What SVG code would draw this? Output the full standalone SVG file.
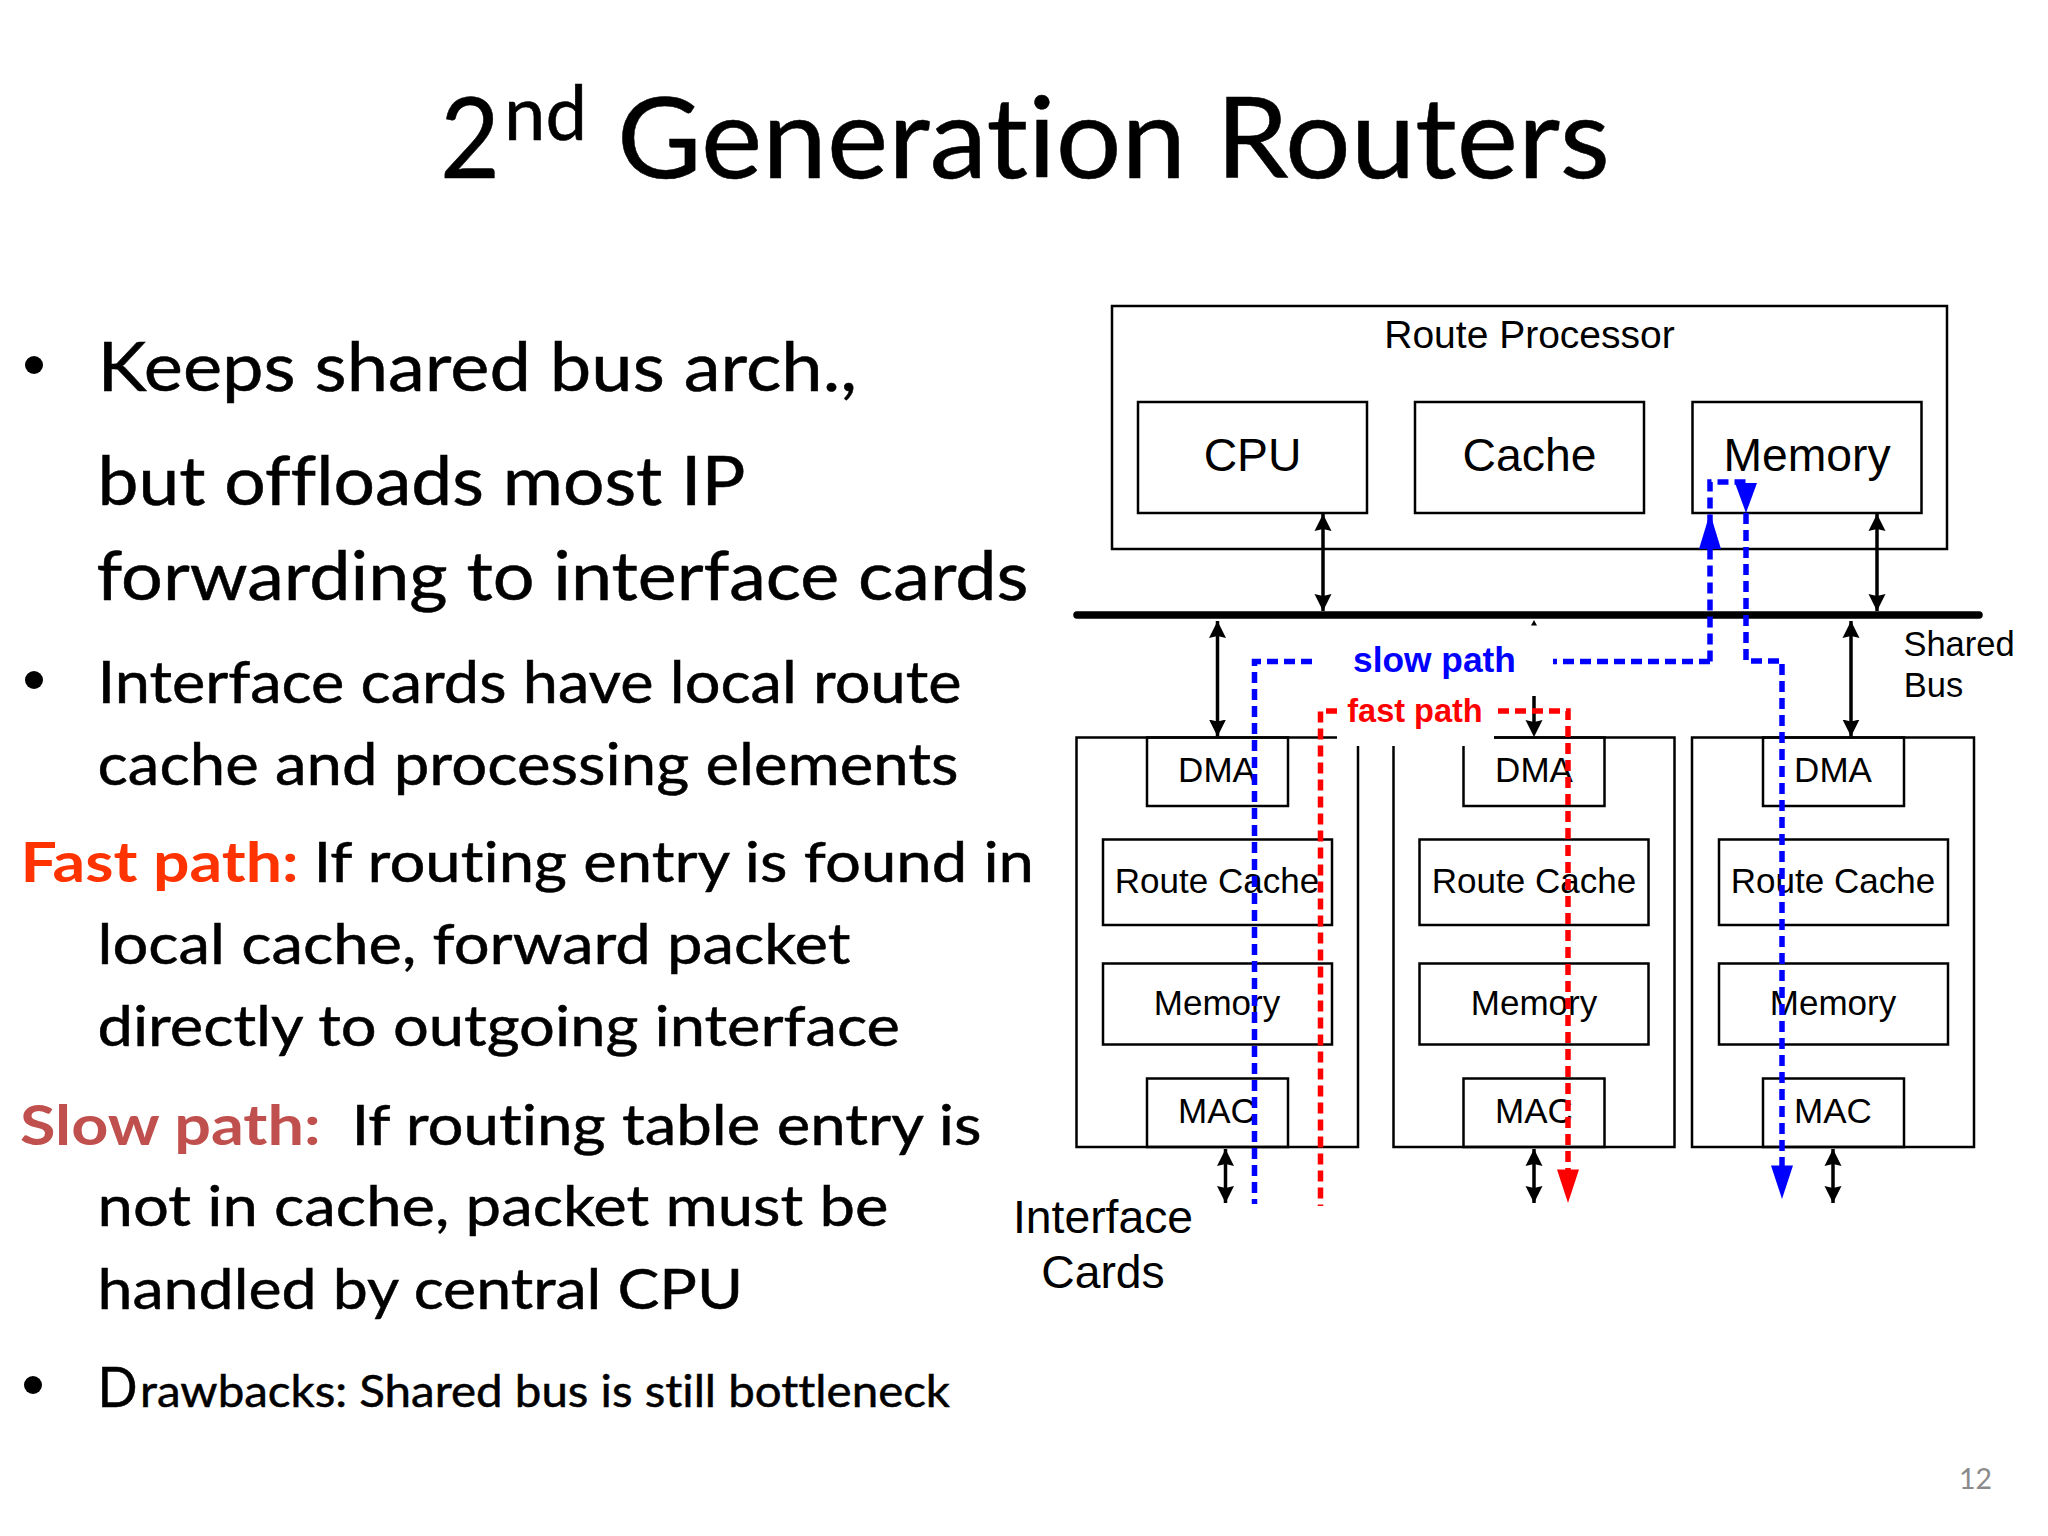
<svg xmlns="http://www.w3.org/2000/svg" width="2048" height="1536" viewBox="0 0 2048 1536">
<style>
.b{font-family:"Lato","Liberation Sans",sans-serif;fill:#000;font-variant-ligatures:none;stroke:#000;stroke-width:.5}
.c{stroke:none}
.s{font-family:"Liberation Sans",Arial,sans-serif;fill:#000;text-anchor:middle}
.box{fill:none;stroke:#000;stroke-width:2.5}
.ar{fill:none;stroke:#000;stroke-width:3.5;marker-start:url(#ah);marker-end:url(#ah)}
.dblue{fill:none;stroke:#00f;stroke-width:5.5;stroke-dasharray:11 6}
.dred{fill:none;stroke:#f00;stroke-width:5.5;stroke-dasharray:11 6}
</style>
<defs>
<marker id="ah" markerUnits="userSpaceOnUse" markerWidth="18" markerHeight="18" refX="17" refY="9" orient="auto-start-reverse"><path d="M0 0.5L17 9L0 17.5L2 9Z" fill="#000"/></marker>
</defs>
<rect width="2048" height="1536" fill="#fff"/>
<g id="title">
<text class="b" x="440" y="178" font-size="112" textLength="60" lengthAdjust="spacingAndGlyphs">2</text>
<text class="b" x="504" y="140" font-size="75" textLength="83" lengthAdjust="spacingAndGlyphs">nd</text>
<text class="b" x="617" y="178" font-size="112" textLength="993" lengthAdjust="spacingAndGlyphs">Generation Routers</text>
</g>
<g id="body">
<circle cx="34" cy="365" r="9"/>
<text class="b" x="97.5" y="391" font-size="68" textLength="759.5" lengthAdjust="spacingAndGlyphs">Keeps shared bus arch.,</text>
<text class="b" x="97.5" y="505" font-size="68" textLength="648" lengthAdjust="spacingAndGlyphs">but offloads most IP</text>
<text class="b" x="96.5" y="600" font-size="68" textLength="932" lengthAdjust="spacingAndGlyphs">forwarding to interface cards</text>
<circle cx="34" cy="680" r="9"/>
<text class="b" x="97.5" y="703" font-size="58" textLength="864" lengthAdjust="spacingAndGlyphs">Interface cards have local route</text>
<text class="b" x="97.5" y="785" font-size="58" textLength="861" lengthAdjust="spacingAndGlyphs">cache and processing elements</text>
<text class="b" x="20.5" y="882" font-size="56" font-weight="700" style="fill:#f30;stroke:none" textLength="278" lengthAdjust="spacingAndGlyphs">Fast path:</text>
<text class="b" x="313.5" y="882" font-size="56" textLength="720.5" lengthAdjust="spacingAndGlyphs">If routing entry is found in</text>
<text class="b" x="97.5" y="964" font-size="56" textLength="753" lengthAdjust="spacingAndGlyphs">local cache, forward packet</text>
<text class="b" x="97.5" y="1046" font-size="56" textLength="802.5" lengthAdjust="spacingAndGlyphs">directly to outgoing interface</text>
<text class="b" x="20" y="1145" font-size="56" font-weight="700" style="fill:#c0504d;stroke:none" textLength="300.6" lengthAdjust="spacingAndGlyphs">Slow path:</text>
<text class="b" x="351.5" y="1145" font-size="56" textLength="630" lengthAdjust="spacingAndGlyphs">If routing table entry is</text>
<text class="b" x="97.5" y="1226" font-size="56" textLength="791" lengthAdjust="spacingAndGlyphs">not in cache, packet must be</text>
<text class="b" x="97.5" y="1309" font-size="56" textLength="645.5" lengthAdjust="spacingAndGlyphs">handled by central CPU</text>
<circle cx="33" cy="1385" r="9"/>
<text class="b" x="97.5" y="1407" font-size="56" textLength="40" lengthAdjust="spacingAndGlyphs">D</text>
<text class="b" x="140" y="1407" font-size="44" textLength="810" lengthAdjust="spacingAndGlyphs">rawbacks: Shared bus is still bottleneck</text>
<text class="b c" x="1959" y="1489" font-size="29" style="fill:#8b8b8b" textLength="33" lengthAdjust="spacingAndGlyphs">12</text>
</g>
<g id="route-processor">
<rect class="box" x="1112" y="306" width="835" height="243"/>
<text class="s" x="1529.5" y="348" font-size="39">Route Processor</text>
</g>
<g id="rp-cpu"><rect class="box" x="1138" y="402" width="229" height="111"/><text class="s" x="1252.5" y="471" font-size="46.3">CPU</text></g>
<g id="rp-cache"><rect class="box" x="1415" y="402" width="229" height="111"/><text class="s" x="1529.5" y="471" font-size="46.3">Cache</text></g>
<g id="rp-memory"><rect class="box" x="1692.5" y="402" width="229" height="111"/><text class="s" x="1807" y="471" font-size="46.3">Memory</text></g>
<g id="card-1">
<rect class="box" x="1076.5" y="737.5" width="281.5" height="409.5"/>
<rect class="box" x="1147" y="737.5" width="141" height="68.5"/><text class="s" x="1217" y="782" font-size="35">DMA</text>
<rect class="box" x="1103" y="839.5" width="229" height="85.5"/><text class="s" x="1217" y="893" font-size="35">Route Cache</text>
<rect class="box" x="1103" y="963.5" width="229" height="81"/><text class="s" x="1217" y="1014.5" font-size="35">Memory</text>
<rect class="box" x="1147" y="1078.5" width="141" height="68.5"/><text class="s" x="1217" y="1123" font-size="35">MAC</text>
</g>
<g id="card-2">
<rect class="box" x="1393.5" y="737.5" width="281" height="409.5"/>
<rect class="box" x="1463.5" y="737.5" width="141" height="68.5"/><text class="s" x="1534" y="782" font-size="35">DMA</text>
<rect class="box" x="1419.5" y="839.5" width="229" height="85.5"/><text class="s" x="1534" y="893" font-size="35">Route Cache</text>
<rect class="box" x="1419.5" y="963.5" width="229" height="81"/><text class="s" x="1534" y="1014.5" font-size="35">Memory</text>
<rect class="box" x="1463.5" y="1078.5" width="141" height="68.5"/><text class="s" x="1534" y="1123" font-size="35">MAC</text>
</g>
<g id="card-3">
<rect class="box" x="1692" y="737.5" width="282" height="409.5"/>
<rect class="box" x="1763" y="737.5" width="141" height="68.5"/><text class="s" x="1833" y="782" font-size="35">DMA</text>
<rect class="box" x="1719" y="839.5" width="229" height="85.5"/><text class="s" x="1833" y="893" font-size="35">Route Cache</text>
<rect class="box" x="1719" y="963.5" width="229" height="81"/><text class="s" x="1833" y="1014.5" font-size="35">Memory</text>
<rect class="box" x="1763" y="1078.5" width="141" height="68.5"/><text class="s" x="1833" y="1123" font-size="35">MAC</text>
</g>
<rect x="1337" y="732" width="157" height="14" fill="#fff"/>
<g id="labels">
<text class="s" x="1434.5" y="672" font-size="35.3" font-weight="700" style="fill:#00f">slow path</text>
<text class="s" x="1415" y="721.5" font-size="32.5" font-weight="700" style="fill:#f00">fast path</text>
<text class="s" x="1959" y="656" font-size="34.5">Shared</text>
<text class="s" x="1933.5" y="697" font-size="34.5">Bus</text>
<text class="s" x="1103" y="1232.5" font-size="46.3">Interface</text>
<text class="s" x="1103" y="1287.5" font-size="46.3">Cards</text>
</g>
<g id="connectors">
<line x1="1077" y1="615" x2="1979" y2="615" stroke="#000" stroke-width="7.5" stroke-linecap="round"/>
<line class="ar" x1="1323" y1="514" x2="1323" y2="611"/>
<line class="ar" x1="1877" y1="514" x2="1877" y2="611"/>
<line class="ar" x1="1217.5" y1="621" x2="1217.5" y2="736.5"/>
<line class="ar" x1="1851" y1="621" x2="1851" y2="736.5"/>
<path d="M1534 620L1531 625.5H1537Z"/>
<line x1="1534" y1="696" x2="1534" y2="725" stroke="#000" stroke-width="3.5"/>
<path d="M1525.5 720L1534 737L1542.5 720L1534 722Z"/>
<line class="ar" x1="1225.5" y1="1149" x2="1225.5" y2="1203"/>
<line class="ar" x1="1534" y1="1149" x2="1534" y2="1203"/>
<line class="ar" x1="1833" y1="1149" x2="1833" y2="1203"/>
<path class="dblue" d="M1710 661.5V482H1746V486"/>
<path class="dblue" d="M1710 661.5H1553"/>
<path class="dblue" d="M1746 513V661H1782V1167"/>
<path class="dblue" d="M1312 661.5H1254.5V1204"/>
<path d="M1699 549L1710 513L1721 549Z" fill="#00f"/>
<path d="M1735 483L1746 513L1757 483Z" fill="#00f"/>
<path d="M1771 1165.5L1782 1199L1793 1165.5Z" fill="#00f"/>
<path class="dred" d="M1337 711H1320.5V1206"/>
<path class="dred" d="M1498 711H1568V1171"/>
<path d="M1557 1169.5L1568 1203L1579 1169.5Z" fill="#f00"/>
</g>
</svg>
